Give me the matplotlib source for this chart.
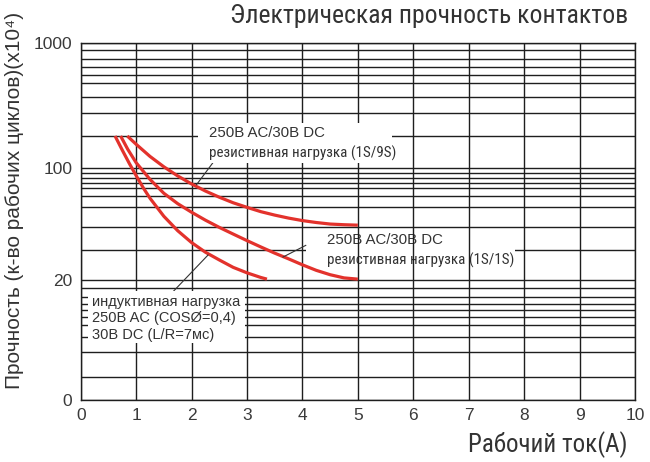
import numpy as np
import matplotlib
matplotlib.use("Agg")
import matplotlib.pyplot as plt
from matplotlib import font_manager as fm
from matplotlib.patches import Rectangle
from matplotlib.ticker import FixedLocator, FixedFormatter, NullLocator

# ---------------- data ----------------
current_inductive = [0.62, 0.75, 0.875, 1.0, 1.125, 1.25, 1.5, 1.75, 2.0, 2.25, 2.5,
                     2.75, 3.0, 3.25, 3.36]
cycles_inductive = [200, 146.9, 110.3, 84.7, 60.9, 47.8, 35.0, 28.1, 22.8, 19.0, 15.9,
                    13.4, 11.8, 10.6, 10.2]

current_1s1s = [0.72, 0.85, 1.0, 1.25, 1.5, 1.75, 2.0, 2.25, 2.5, 2.75, 3.0, 3.25,
                3.5, 3.75, 4.0, 4.25, 4.5, 4.75, 5.0]
cycles_1s1s = [200, 149.2, 111.6, 77.1, 53.2, 42.8, 37.1, 33.1, 29.8, 26.5, 23.6, 21.1,
               18.6, 16.3, 14.2, 12.5, 11.3, 10.5, 10.2]

current_1s9s = [0.84, 1.0, 1.25, 1.5, 1.75, 2.0, 2.25, 2.5, 2.75, 3.0, 3.25, 3.5,
                3.75, 4.0, 4.25, 4.5, 4.75, 5.0]
cycles_1s9s = [200, 167, 128, 102, 84, 68, 56, 48.8, 43.6, 39.8, 37.4, 35.6,
               34.1, 32.9, 32.0, 31.3, 31.0, 30.8]

x_ticks = list(range(0, 11))
x_tick_labels = [str(v) for v in x_ticks]
y_tick_values = [1, 10, 100, 1000]
y_tick_labels = ["0", "20", "100", "1000"]

# horizontal grid lines of the (hand drawn, log-like) chart paper
y_grid_values = [1, 1.5, 2, 3, 4, 5, 6, 7, 8, 9, 10, 20, 30, 40, 50, 60, 70, 80, 90,
                 100, 200, 300, 400, 500, 600, 700, 800, 900, 1000]
# relative heights of those grid lines (paper layout)
y_grid_height = [0, 23, 48, 63, 75, 83, 90, 96, 103, 112, 120, 150, 173, 193, 204, 212,
                 217, 222, 227, 232.3, 264, 286.7, 302.7, 316.7, 325, 333.3, 340.7, 350, 357]

title = "Электрическая прочность контактов"
xlabel = "Рабочий ток(A)"
ylabel = "Прочность (к-во рабочих циклов)(x10⁴)"
ann_9s = ["250В AC/30В DC", "резистивная нагрузка (1S/9S)"]
ann_1s = ["250В AC/30В DC", "резистивная нагрузка (1S/1S)"]
ann_ind = ["индуктивная нагрузка", "250В AC (COSØ=0,4)", "30В DC (L/R=7мс)"]

# leader lines (from curve to label), data coordinates
lead_9s = ([2.09, 2.42], [66.5, 118])
lead_1s = ([3.65, 4.06], [17.0, 21.7])
lead_ind = ([1.665, 2.297], [8.57, 17.8])

# ---------------- fonts ----------------
avail = {f.name for f in fm.fontManager.ttflist}
def pick(*names):
    for n in names:
        if n in avail:
            return n
    return "DejaVu Sans"
NARROW = pick("Liberation Sans Narrow", "Roboto Condensed", "Roboto")
REG = pick("Liberation Sans", "Arial", "DejaVu Sans")

RED = "#e3322c"
GRID = "#1e1e1e"
TXT = "#333333"

W, H = 650, 462
fig = plt.figure(figsize=(W / 100, H / 100), dpi=100)
fig.patch.set_facecolor("white")

def fx(px):
    return px / W
def fy(py):
    return 1 - py / H

ax = fig.add_axes([fx(80.7), fy(400), (635 - 80.7) / W, (400 - 43) / H])

KL = np.log10(np.array(y_grid_values, float))
KH = np.array(y_grid_height, float)

def fwd(v):
    v = np.asarray(v, float)
    L = np.log10(np.clip(v, 1e-9, None))
    out = np.interp(L, KL, KH)
    out = np.where(L < KL[0], KH[0] + (L - KL[0]) * 120, out)
    out = np.where(L > KL[-1], KH[-1] + (L - KL[-1]) * 125, out)
    return out

def inv(h):
    h = np.asarray(h, float)
    L = np.interp(h, KH, KL)
    L = np.where(h < KH[0], KL[0] + (h - KH[0]) / 120, L)
    L = np.where(h > KH[-1], KL[-1] + (h - KH[-1]) / 125, L)
    return 10 ** L

ax.set_yscale("function", functions=(fwd, inv))
ax.set_xlim(0, 10)
ax.set_ylim(1, 1000)

# grid: horizontal lines under the 1S/1S label box, vertical lines above it
for v in y_grid_values:
    ax.axhline(v, color=GRID, lw=1.0, zorder=1)
for v in x_ticks:
    ax.axvline(v, color=GRID, lw=1.0, zorder=2)

ax.xaxis.set_major_locator(FixedLocator(x_ticks))
ax.xaxis.set_major_formatter(FixedFormatter(x_tick_labels))
ax.yaxis.set_major_locator(FixedLocator(y_tick_values))
ax.yaxis.set_major_formatter(FixedFormatter(y_tick_labels))
ax.yaxis.set_minor_locator(NullLocator())
ax.xaxis.set_minor_locator(NullLocator())
ax.tick_params(length=0, labelsize=12.5, labelcolor="#3a3a3a", pad=6)
for lab in ax.get_xticklabels() + ax.get_yticklabels():
    lab.set_family(REG)
for s in ax.spines.values():
    s.set_color(GRID)
    s.set_linewidth(1.0)
    s.set_zorder(6)

# curves
for xs, ys in [(current_inductive, cycles_inductive),
               (current_1s1s, cycles_1s1s),
               (current_1s9s, cycles_1s9s)]:
    ax.plot(xs, ys, color=RED, lw=2.3, solid_capstyle="butt",
            solid_joinstyle="round", zorder=3)

# leader lines
for xs, ys in [lead_9s, lead_1s, lead_ind]:
    ax.plot(xs, ys, color="#333333", lw=0.8, zorder=3.5)

def box(x0, y0, x1, y1, z):
    r = Rectangle((fx(x0), fy(y1)), (x1 - x0) / W, (y1 - y0) / H,
                  transform=fig.transFigure, facecolor="white",
                  edgecolor="none", zorder=z, clip_on=False)
    ax.add_patch(r)

# label 1S/9S (covers grid)
box(198, 123, 392, 163, 4)
ax.text(fx(209), fy(133), ann_9s[0], transform=fig.transFigure, family=REG,
        fontsize=10.8, color=TXT, va="center", ha="left", zorder=5)
ax.text(fx(209), fy(153), ann_9s[1], transform=fig.transFigure, family=NARROW,
        fontsize=10.8, color=TXT, va="center", ha="left", zorder=5)

# label 1S/1S (vertical grid lines pass over it)
box(306, 231, 515, 268, 1.5)
ax.text(fx(327), fy(240), ann_1s[0], transform=fig.transFigure, family=REG,
        fontsize=10.8, color=TXT, va="center", ha="left", zorder=1.6)
ax.text(fx(327), fy(260), ann_1s[1], transform=fig.transFigure, family=NARROW,
        fontsize=10.8, color=TXT, va="center", ha="left", zorder=1.6)

# inductive label
box(88, 291, 245, 343, 4)
for i, t in enumerate(ann_ind):
    ax.text(fx(92), fy(301.7 + 16.7 * i), t, transform=fig.transFigure,
            family=REG, fontsize=10.5, color=TXT, va="center", ha="left", zorder=5)

# titles
fig.text(fx(628), fy(16), title, family=NARROW, fontsize=18.5, color=TXT,
         ha="right", va="center")
fig.text(fx(628), fy(445), xlabel, family=NARROW, fontsize=18, color=TXT,
         ha="right", va="center")
fig.text(fx(15), fy(200), ylabel, family=[REG, "DejaVu Sans"], fontsize=15,
         color=TXT, rotation=90, ha="center", va="center")

fig.savefig("out.png", dpi=100, facecolor="white")
